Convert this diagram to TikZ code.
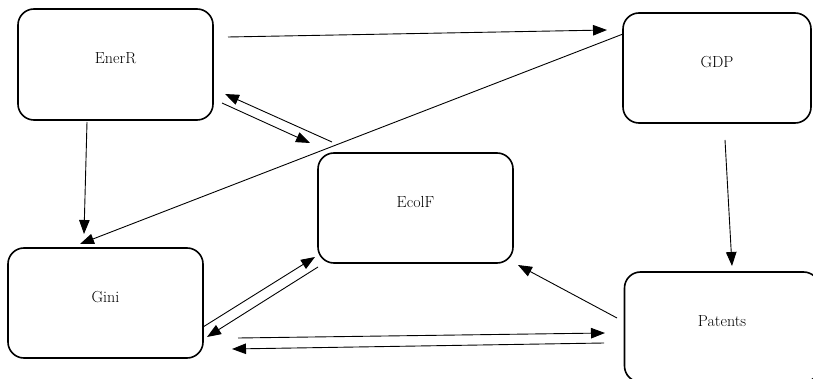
\documentclass[tikz,border=0pt]{standalone}
\usetikzlibrary{arrows.meta,calc}
\begin{document}
\begin{tikzpicture}[x=1pt,y=-1pt,
  varbox/.style={draw=black,line width=1.6pt,rounded corners=16pt,
    minimum width=195pt,minimum height=110pt,inner sep=0pt,
    text height=10pt,text depth=11pt,font=\fontsize{16}{19}\selectfont},
  link/.style={line width=0.9pt,-{Triangle[length=14pt,width=10.5pt]}}]
  \useasboundingbox (0,0) rectangle (813,379);

  % variables
  \node[varbox,minimum height=111pt] (ener) at (115.5,64.5) {EnerR};
  \node[varbox,minimum width=188pt] (gdp) at (717,68) {GDP};
  \node[varbox] (ecol) at (415.5,208) {EcolF};
  \node[varbox] (gini) at (105.5,303) {Gini};
  \node[varbox] (pat) at (722,327) {Patents};

  % causal links
  \draw[link] ($(ener)+(112.5,-27.5)$) -- ($(gdp)+(-110,-38)$);
  \draw[link] ($(gdp)+(-94,-34)$) -- ($(gini)+(-25.5,-59)$);
  \draw[link] ($(ener)+(-28.5,57.5)$) -- ($(gini)+(-21.5,-69)$);
  \draw[link] ($(gdp)+(8,72)$) -- ($(pat)+(10,-61)$);
  \draw[link] ($(ecol)+(-83.5,-66)$) -- ($(ener)+(109.5,29.5)$);
  \draw[link] ($(ener)+(106.5,38.5)$) -- ($(ecol)+(-105.5,-65)$);
  \draw[link] ($(gini)+(97.5,24)$) -- ($(ecol)+(-100.5,49)$);
  \draw[link] ($(ecol)+(-97.5,59)$) -- ($(gini)+(101.5,34)$);
  \draw[link] ($(gini)+(132.5,35)$) -- ($(pat)+(-117,6)$);
  \draw[link] ($(pat)+(-118,16)$) -- ($(gini)+(126.5,46)$);
  \draw[link] ($(pat)+(-105,-9)$) -- ($(ecol)+(102.5,57)$);
\end{tikzpicture}
\end{document}
